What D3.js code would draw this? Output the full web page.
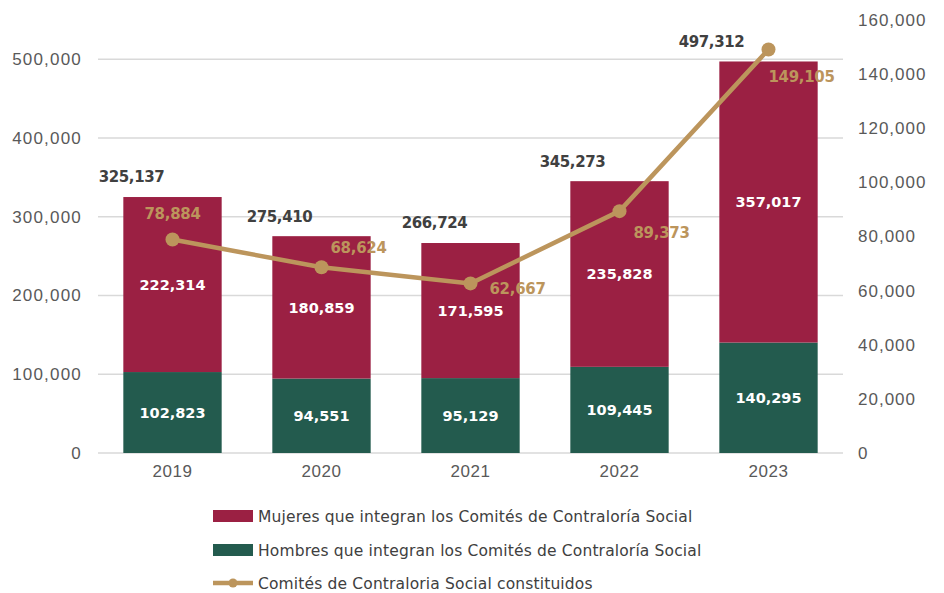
<!DOCTYPE html>
<html>
<head>
<meta charset="utf-8">
<script src="https://cdn.jsdelivr.net/npm/d3@7"></script>
<style>
  html, body { margin: 0; padding: 0; background: #fff; }
  svg { display: block; font-family: "DejaVu Sans", sans-serif; }
</style>
</head>
<body>
<svg id="chart" width="944" height="593"></svg>
<script>
// Comités de Contraloría Social, 2019–2023
const years = ["2019", "2020", "2021", "2022", "2023"];
const mujeres = [222314, 180859, 171595, 235828, 357017];
const hombres = [102823, 94551, 95129, 109445, 140295];
const totales = [325137, 275410, 266724, 345273, 497312];
const comites = [78884, 68624, 62667, 89373, 149105];
const leftTicks = [0, 100000, 200000, 300000, 400000, 500000];
const rightTicks = [0, 20000, 40000, 60000, 80000, 100000, 120000, 140000, 160000];
const legendLabels = [
  "Mujeres que integran los Comités de Contraloría Social",
  "Hombres que integran los Comités de Contraloría Social",
  "Comités de Contraloria Social constituidos"
];

const C_MUJ = "#9B2043", C_HOM = "#235B4E", C_LINE = "#BC955C";
const C_TICK = "#595959", C_DARK = "#404040", C_GRID = "#d9d9d9";

const svg = d3.select("#chart");
const fmt = d3.format(",");

const x = d3.scaleBand().domain(years).range([98, 843]).paddingInner(0.34).paddingOuter(0.17);
const yL = d3.scaleLinear().domain([0, 550000]).range([453, 20]);
const yR = d3.scaleLinear().domain([0, 160000]).range([453, 20]);

// gridlines
svg.append("g").selectAll("line").data(leftTicks).join("line")
  .attr("x1", 98).attr("x2", 843)
  .attr("y1", d => yL(d)).attr("y2", d => yL(d))
  .attr("stroke", C_GRID).attr("stroke-width", 1.5);

// left axis
const axL = svg.append("g").attr("transform", "translate(82,0)")
  .call(d3.axisLeft(yL).tickValues(leftTicks).tickFormat(fmt).tickSize(0).tickPadding(0));
axL.select(".domain").remove();
axL.selectAll("text").attr("fill", C_TICK).attr("font-size", 17).attr("letter-spacing", 1.2);

// right axis
const axR = svg.append("g").attr("transform", "translate(858,0)")
  .call(d3.axisRight(yR).tickValues(rightTicks).tickFormat(fmt).tickSize(0).tickPadding(0));
axR.select(".domain").remove();
axR.selectAll("text").attr("fill", C_TICK).attr("font-size", 17).attr("letter-spacing", 1);

// x axis
const axX = svg.append("g").attr("transform", "translate(0,465)")
  .call(d3.axisBottom(x).tickSize(0).tickPadding(0));
axX.select(".domain").remove();
axX.selectAll("text").attr("fill", C_TICK).attr("font-size", 17).attr("letter-spacing", 0.5).attr("dy", "0.71em");

// stacked bars
const rows = years.map((y, i) => ({ year: y, h: hombres[i], m: mujeres[i], t: totales[i], c: comites[i] }));
const bars = svg.append("g");
bars.selectAll(".hom").data(rows).join("rect")
  .attr("x", d => x(d.year)).attr("width", x.bandwidth())
  .attr("y", d => yL(d.h)).attr("height", d => yL(0) - yL(d.h))
  .attr("fill", C_HOM);
bars.selectAll(".muj").data(rows).join("rect")
  .attr("x", d => x(d.year)).attr("width", x.bandwidth())
  .attr("y", d => yL(d.h + d.m)).attr("height", d => yL(d.h) - yL(d.h + d.m))
  .attr("fill", C_MUJ);

// segment labels
const segLab = svg.append("g").attr("font-weight", "bold").attr("font-size", 14.5)
  .attr("fill", "#fff").attr("text-anchor", "middle");
segLab.selectAll(".lh").data(rows).join("text")
  .attr("x", d => x(d.year) + x.bandwidth() / 2)
  .attr("y", d => yL(d.h / 2)).attr("dy", "0.36em")
  .text(d => fmt(d.h));
segLab.selectAll(".lm").data(rows).join("text")
  .attr("x", d => x(d.year) + x.bandwidth() / 2)
  .attr("y", d => yL(d.h + d.m / 2)).attr("dy", "0.36em")
  .text(d => fmt(d.m));

// totals above each bar, nudged left
const totalShift = [-41, -42, -36, -47, -57];
svg.append("g").attr("font-weight", "bold").attr("font-size", 15)
  .attr("letter-spacing", -0.4)
  .attr("fill", C_DARK).attr("text-anchor", "middle")
  .selectAll("text").data(rows).join("text")
  .attr("x", (d, i) => x(d.year) + x.bandwidth() / 2 + totalShift[i])
  .attr("y", d => yL(d.t) - 20).attr("dy", "0.36em")
  .text(d => fmt(d.t));

// committees line
const cx = d => x(d.year) + x.bandwidth() / 2;
svg.append("path").datum(rows)
  .attr("d", d3.line().x(cx).y(d => yR(d.c)))
  .attr("fill", "none").attr("stroke", C_LINE).attr("stroke-width", 4.5)
  .attr("stroke-linejoin", "round");
svg.append("g").selectAll("circle").data(rows).join("circle")
  .attr("cx", cx).attr("cy", d => yR(d.c)).attr("r", 7).attr("fill", C_LINE);

// committee value labels
const lineDx = [0, 37, 47, 42, 33];
const lineDy = [-26, -20, 5, 21, 27];
svg.append("g").attr("font-weight", "bold").attr("font-size", 15)
  .attr("letter-spacing", -0.3)
  .attr("fill", C_LINE).attr("text-anchor", "middle")
  .selectAll("text").data(rows).join("text")
  .attr("x", (d, i) => cx(d) + lineDx[i])
  .attr("y", (d, i) => yR(d.c) + lineDy[i]).attr("dy", "0.36em")
  .text(d => fmt(d.c));

// legend
const lg = svg.append("g").attr("transform", "translate(213,0)");
const legY = [516, 550, 583];
lg.append("rect").attr("x", 0).attr("y", legY[0] - 6).attr("width", 40).attr("height", 12).attr("fill", C_MUJ);
lg.append("rect").attr("x", 0).attr("y", legY[1] - 6).attr("width", 40).attr("height", 12).attr("fill", C_HOM);
lg.append("line").attr("x1", 0).attr("x2", 40).attr("y1", legY[2]).attr("y2", legY[2])
  .attr("stroke", C_LINE).attr("stroke-width", 4.5);
lg.append("circle").attr("cx", 20).attr("cy", legY[2]).attr("r", 4.5).attr("fill", C_LINE);
lg.selectAll("text").data(legendLabels).join("text")
  .attr("x", 45).attr("y", (d, i) => legY[i]).attr("dy", "0.36em")
  .attr("font-size", 15.5).attr("letter-spacing", 0.15).attr("fill", C_DARK)
  .text(d => d);
</script>
</body>
</html>
